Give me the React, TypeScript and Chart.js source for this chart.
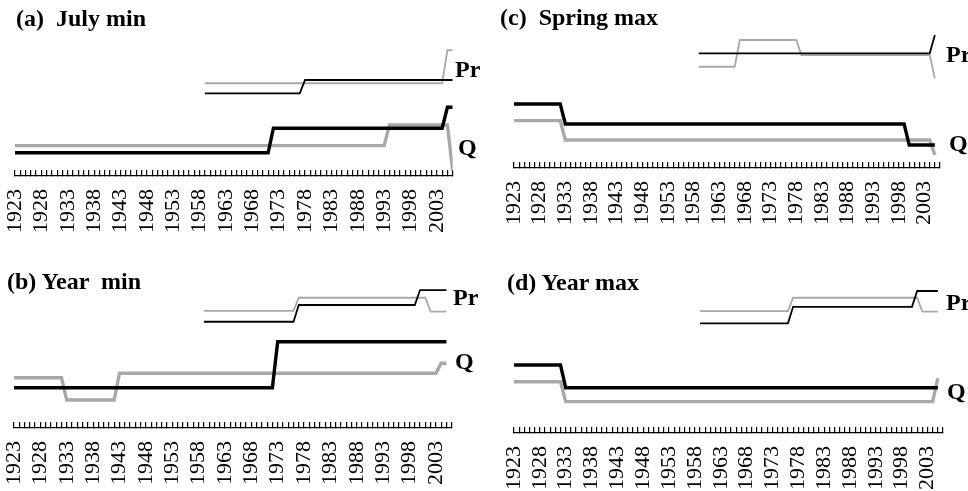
import React, { useEffect, useRef } from "react";
import { Chart, registerables } from "chart.js";

Chart.register(...registerables);

// Axis categories: one tick per year, labels every 5 years from 1923
const YEARS: number[] = Array.from({ length: 84 }, (_, i) => 1923 + i); // 1923..2006
const FIRST_YEAR = 1923;
const LAST_YEAR = 2006;
const LABEL_STEP = 5;

type Series = [number, number][]; // [year, relative level], linear between points

// (a) July min
const A_Q_BLACK: Series = [[1923, 17.1], [1971, 17.1], [1972, 35.1], [2004, 35.1], [2005, 50.5], [2006, 50.5]];
const A_Q_GRAY: Series = [[1923, 22.3], [1993, 22.3], [1994, 37.5], [2005, 37.5], [2006, 3.7]];
const A_PR_BLACK: Series = [[1959, 60.8], [1977, 60.8], [1978, 70.6], [2006, 70.6]];
const A_PR_GRAY: Series = [[1959, 68.2], [2004, 68.2], [2005, 92.6], [2006, 92.6]];

// (b) Year min
const B_Q_BLACK: Series = [[1923, 27.2], [1972, 27.2], [1973, 58.3], [2005, 58.3]];
const B_Q_GRAY: Series = [[1923, 34.0], [1932, 34.0], [1933, 18.9], [1942, 18.9], [1943, 37.0], [2003, 37.0], [2004, 43.7], [2005, 43.7]];
const B_PR_BLACK: Series = [[1959, 71.8], [1976, 71.8], [1977, 83.1], [1999, 83.1], [2000, 93.2], [2005, 93.2]];
const B_PR_GRAY: Series = [[1959, 79.1], [1976, 79.1], [1977, 88.0], [2001, 88.0], [2002, 78.6], [2005, 78.6]];

// (c) Spring max
const C_Q_BLACK: Series = [[1923, 44.8], [1932, 44.8], [1933, 30.8], [1999, 30.8], [2000, 16.1], [2005, 16.1]];
const C_Q_GRAY: Series = [[1923, 33.1], [1932, 33.1], [1933, 19.6], [2004, 19.6], [2005, 9.1]];
const C_PR_BLACK: Series = [[1959, 80.2], [2004, 80.2], [2005, 93.0]];
const C_PR_GRAY: Series = [[1959, 70.8], [1966, 70.8], [1967, 89.5], [1978, 89.5], [1979, 79.0], [2004, 79.0], [2005, 62.7]];

// (d) Year max
const D_Q_BLACK: Series = [[1923, 44.4], [1932, 44.4], [1933, 29.6], [2005, 29.6]];
const D_Q_GRAY: Series = [[1923, 33.5], [1932, 33.5], [1933, 20.5], [2004, 20.5], [2005, 35.8]];
const D_PR_BLACK: Series = [[1959, 71.7], [1976, 71.7], [1977, 82.5], [2000, 82.5], [2001, 92.8], [2005, 92.8]];
const D_PR_GRAY: Series = [[1959, 79.7], [1976, 79.7], [1977, 88.4], [2001, 88.4], [2002, 79.3], [2005, 79.3]];

const SERIF = '"Liberation Serif", "Times New Roman", serif';
const BLACK = "#000000";
const GRAY = "#a8a8a8";

interface PanelDef {
  title: string;
  titlePos: [number, number];
  box: { left: number; top: number; width: number; height: number };
  area: { l: number; r: number; t: number; b: number };
  qBlack: Series;
  qGray: Series;
  prBlack: Series;
  prGray: Series;
  prPos: [number, number];
  qPos: [number, number];
}

const PANELS: PanelDef[] = [
  {
    title: "(a)  July min",
    titlePos: [16, 6],
    box: { left: 0, top: 0, width: 484, height: 245 },
    area: { l: 15, r: 452.7, t: 40, b: 176 },
    qBlack: A_Q_BLACK, qGray: A_Q_GRAY, prBlack: A_PR_BLACK, prGray: A_PR_GRAY,
    prPos: [455, 57],
    qPos: [458, 135],
  },
  {
    title: "(b) Year  min",
    titlePos: [7, 269],
    box: { left: 0, top: 250, width: 484, height: 241 },
    area: { l: 14, r: 451.7, t: 280, b: 428 },
    qBlack: B_Q_BLACK, qGray: B_Q_GRAY, prBlack: B_PR_BLACK, prGray: B_PR_GRAY,
    prPos: [453, 285],
    qPos: [455, 349],
  },
  {
    title: "(c)  Spring max",
    titlePos: [500, 5],
    box: { left: 484, top: 0, width: 484, height: 245 },
    area: { l: 514, r: 940, t: 25, b: 168 },
    qBlack: C_Q_BLACK, qGray: C_Q_GRAY, prBlack: C_PR_BLACK, prGray: C_PR_GRAY,
    prPos: [946, 42],
    qPos: [949, 131],
  },
  {
    title: "(d) Year max",
    titlePos: [507, 270],
    box: { left: 484, top: 250, width: 484, height: 241 },
    area: { l: 514, r: 943, t: 280, b: 433 },
    qBlack: D_Q_BLACK, qGray: D_Q_GRAY, prBlack: D_PR_BLACK, prGray: D_PR_GRAY,
    prPos: [946, 290],
    qPos: [947, 379],
  },
];

const toPoints = (s: Series) => s.map(([x, y]) => ({ x, y }));

function PanelChart({ p }: { p: PanelDef }) {
  const ref = useRef<HTMLCanvasElement | null>(null);
  useEffect(() => {
    if (!ref.current) return;
    const padLeft = p.area.l - p.box.left;
    const padRight = p.box.left + p.box.width - p.area.r;
    const padTop = p.area.t - p.box.top;
    const axisH = p.box.top + p.box.height - p.area.b;
    const line = (s: Series, color: string, w: number) => ({
      data: toPoints(s),
      borderColor: color,
      backgroundColor: color,
      borderWidth: w,
      pointRadius: 0,
      tension: 0,
      fill: false,
      borderCapStyle: "butt" as const,
      borderJoinStyle: "miter" as const,
    });
    const chart = new Chart(ref.current, {
      type: "line",
      data: {
        datasets: [
          line(p.qBlack, BLACK, 3.4),
          line(p.prBlack, BLACK, 1.8),
          line(p.qGray, GRAY, 3.4),
          line(p.prGray, GRAY, 1.8),
        ] as any,
      },
      options: {
        animation: false,
        responsive: false,
        maintainAspectRatio: false,
        events: [],
        layout: { padding: { left: padLeft, right: padRight, top: padTop, bottom: 0 } },
        plugins: { legend: { display: false }, tooltip: { enabled: false }, title: { display: false } },
        scales: {
          x: {
            type: "linear",
            min: FIRST_YEAR,
            max: LAST_YEAR,
            afterBuildTicks: (s: any) => {
              s.ticks = YEARS.filter((v) => v >= FIRST_YEAR && v <= LAST_YEAR).map((v) => ({ value: v }));
            },
            afterFit: (s: any) => {
              s.paddingLeft = 0;
              s.paddingRight = 0;
              s.paddingTop = 0;
              s.paddingBottom = 0;
              s.height = axisH;
            },
            ticks: {
              autoSkip: false,
              minRotation: 90,
              maxRotation: 90,
              padding: 19,
              color: "#000",
              font: { family: SERIF, size: 22 },
              callback: (v: any) => ((Number(v) - FIRST_YEAR) % LABEL_STEP === 0 ? String(v) : ""),
            },
            grid: {
              display: true,
              drawOnChartArea: false,
              drawTicks: true,
              tickLength: -6,
              color: "#000",
              lineWidth: 1.2,
            },
            border: { display: true, color: "#000", width: 1.2 },
          },
          y: { display: false, min: 0, max: 100 },
        },
      } as any,
    });
    return () => chart.destroy();
  }, [p]);
  return (
    <canvas
      ref={ref}
      width={p.box.width}
      height={p.box.height}
      style={{
        position: "absolute",
        left: p.box.left,
        top: p.box.top,
        width: p.box.width,
        height: p.box.height,
      }}
    />
  );
}

const textStyle = (x: number, y: number): React.CSSProperties => ({
  position: "absolute",
  left: x,
  top: y,
  fontFamily: SERIF,
  fontWeight: "bold",
  fontSize: 24,
  lineHeight: "24px",
  whiteSpace: "pre",
  color: "#000",
});

export default function App() {
  return (
    <div
      style={{
        position: "absolute",
        left: 0,
        top: 0,
        width: 968,
        height: 491,
        background: "#fff",
        overflow: "hidden",
      }}
    >
      {PANELS.map((p, i) => (
        <React.Fragment key={i}>
          <PanelChart p={p} />
          <div style={textStyle(p.titlePos[0], p.titlePos[1])}>{p.title}</div>
          <div style={textStyle(p.prPos[0], p.prPos[1])}>Pr</div>
          <div style={textStyle(p.qPos[0], p.qPos[1])}>Q</div>
        </React.Fragment>
      ))}
    </div>
  );
}
